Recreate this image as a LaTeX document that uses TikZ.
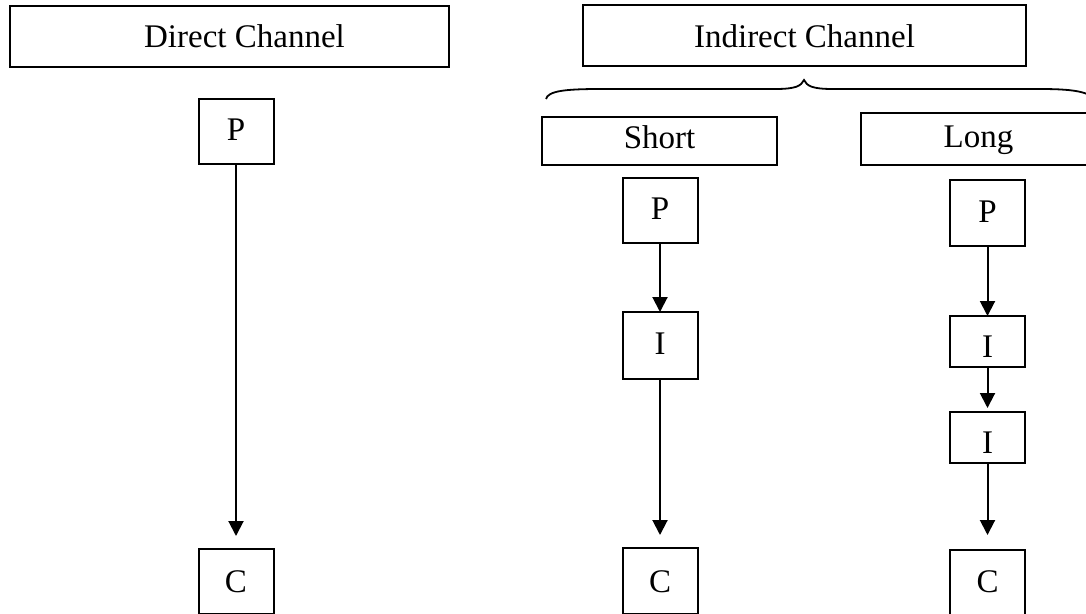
\documentclass[tikz,border=0pt]{standalone}
\usepackage{fontspec}
\setmainfont{Liberation Serif}
\usetikzlibrary{arrows.meta}
\begin{document}
\begin{tikzpicture}[x=1pt,y=-1pt,
  box/.style 2 args={draw,line width=2pt,inner sep=0pt,outer sep=0pt,anchor=north,
    minimum width=75pt,text height=#1pt,text depth=#2pt},
  conn/.style={line width=2pt,-{Triangle[width=15pt,length=15pt]}},
  every node/.style={font=\fontsize{33}{40}\selectfont}]
\useasboundingbox (0,0) rectangle (1086,613);
\clip (0,0) rectangle (1086,613);
% headers
\node[box={41}{20},minimum width=439pt] (dc) at (229.5,6) {\hspace*{30pt}Direct Channel};
\node[box={42}{19},minimum width=443pt] (ic) at (804.5,5) {Indirect Channel};
% brace
\draw[line width=1.8pt] (546,99) .. controls (548,91) and (565,89) .. (600,89) -- (775,89)
  .. controls (796,89) and (801,86) .. (804,80)
  .. controls (807,86) and (812,89) .. (833,89) -- (1040,89)
  .. controls (1080,89) and (1090,93) .. (1096,101);
\node[box={31}{17},minimum width=235pt] (sh) at (659.5,117) {Short};
\node[box={34}{18},minimum width=235pt] (lg) at (978.5,113) {Long};
% direct column
\node[box={41}{24}] (dP) at (236,99) {P};
\node[box={43}{22}] (dC) at (236,549) {C};
% short column
\node[box={41}{24}] (sP) at (660,178) {P};
\node[box={42}{25}] (sI) at (660,312) {I};
\node[box={44}{22}] (sC) at (660,548) {C};
% long column
\node[box={42}{24}] (lP) at (987.5,180) {P};
\node[box={41}{10}] (lI1) at (987.5,316) {I};
\node[box={41}{10}] (lI2) at (987.5,412) {I};
\node[box={42}{23}] (lC) at (987.5,550) {C};
% connectors
\draw[conn,shorten >=13pt] (dP.south) -- (dC.north);
\draw[conn] (sP.south) -- (sI.north);
\draw[conn,shorten >=13pt] (sI.south) -- (sC.north);
\draw[conn] (lP.south) -- (lI1.north);
\draw[conn,shorten >=4pt] (lI1.south) -- (lI2.north);
\draw[conn,shorten >=15pt] (lI2.south) -- (lC.north);
\end{tikzpicture}
\end{document}
